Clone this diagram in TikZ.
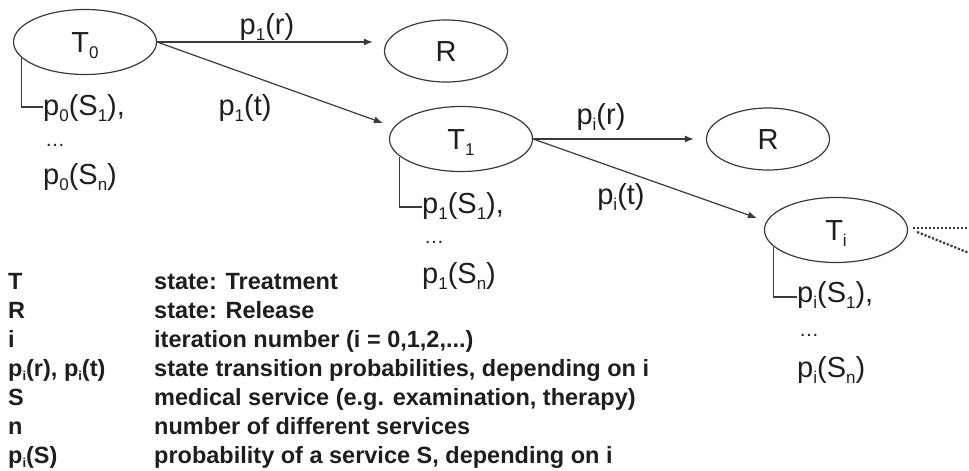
\documentclass[tikz,border=0pt]{standalone}
\usepackage{fontspec}
\setmainfont{Liberation Sans}
\usetikzlibrary{shapes.geometric,arrows.meta}
\definecolor{ink}{HTML}{1E1E1E}
\definecolor{edge}{HTML}{3A3A3A}
% lowered, smaller indices as used in the labels
\newcommand\lowidx[1]{\raisebox{-6pt}{\fontsize{17}{17}\selectfont #1}}
\newcommand\legidx[1]{\raisebox{-4.5pt}{\fontsize{13}{13}\selectfont #1}}
\newcommand\diagfont{\fontsize{29}{34}\selectfont}
\newcommand\legfont{\fontsize{23.5}{28}\selectfont\bfseries}

\begin{document}
\begin{tikzpicture}[x=1pt,y=1pt,
  state/.style={ellipse,draw=edge,line width=1.2pt,inner sep=0pt,
    text=ink,font=\diagfont,text height=21pt,text depth=0pt},
  tstate/.style={state,minimum width=143pt,minimum height=65pt},
  rstate/.style={state,minimum width=123pt,minimum height=62pt},
  arr/.style={draw=edge,line width=1.2pt,-{Latex[length=9pt,width=7pt]}},
  brk/.style={draw=edge,line width=1.2pt},
  dots/.style={draw=edge,line width=2.2pt,dash pattern=on 2.2pt off 1.8pt},
  lbl/.style={inner sep=0pt,anchor=base,text=ink,font=\diagfont},
  sublbl/.style={inner sep=0pt,anchor=base west,text=ink,font=\diagfont},
  ell/.style={inner sep=0pt,anchor=base west,text=ink,font=\fontsize{20}{20}\selectfont},
  key/.style={inner sep=0pt,anchor=base west,text=ink,font=\legfont}
]
\useasboundingbox (0,0) rectangle (969,-471);

% states
\node[tstate] (T0) at (85,-42)  {T\lowidx{0}};
\node[rstate] (R1) at (446,-51) {R};
\node[tstate] (T1) at (461,-139) {T\lowidx{1}};
\node[rstate] (R2) at (768,-139) {R};
\node[tstate] (Ti) at (836,-230) {T\lowidx{i}};

% transitions
\draw[arr,shorten >=11pt] (T0.east) -- (R1.west |- T0.east);
\draw[arr] (T0.east) -- ([shift={(-6,16)}]T1.west);
\draw[arr,shorten >=12pt] (T1.east) -- (R2.west |- T1.east);
\draw[arr] (T1.east) -- ([shift={(-7,12)}]Ti.west);

% continuation
\coordinate (c1) at (969,-228);
\coordinate (c2) at (969,-253);
\draw[dots] ([shift={(5,2)}]Ti.east) -- (c1);
\draw[dots] ([shift={(9,-2)}]Ti.east) -- (c2);

% transition labels
\node[lbl] (l1) at (267,-34)  {p\lowidx{1}(r)};
\node[lbl] (l2) at (245,-115) {p\lowidx{1}(t)};
\node[lbl] (l3) at (601,-124) {p\lowidx{i}(r)};
\node[lbl] (l4) at (621,-204) {p\lowidx{i}(t)};

% service probabilities of each treatment state
\node[sublbl] (a1) at (43,-115) {p\lowidx{0}(S\lowidx{1}),};
\node[ell]    (a2) at (45,-146) {…};
\node[sublbl] (a3) at (43,-184) {p\lowidx{0}(S\lowidx{n})};
\draw[brk] (T0.194) |- ([yshift=8pt]a1.base west);

\node[sublbl] (b1) at (422,-213) {p\lowidx{1}(S\lowidx{1}),};
\node[ell]    (b2) at (424,-243) {…};
\node[sublbl] (b3) at (422,-283) {p\lowidx{1}(S\lowidx{n})};
\draw[brk] (T1.196) |- ([yshift=6pt]b1.base west);

\node[sublbl] (c1l) at (797,-302) {p\lowidx{i}(S\lowidx{1}),};
\node[ell]    (c2l) at (799,-336) {…};
\node[sublbl] (c3l) at (797,-377) {p\lowidx{i}(S\lowidx{n})};
\draw[brk] (Ti.195) |- ([yshift=5pt]c1l.base west);

% legend
\node[key] (k1) at (8,-289) {T};
\node[key] (k2) at (8,-318) {R};
\node[key] (k3) at (8,-347) {i};
\node[key] (k4) at (8,-376) {p\legidx{i}(r), p\legidx{i}(t)};
\node[key] (k5) at (8,-405) {S};
\node[key] (k6) at (8,-434) {n};
\node[key] (k7) at (8,-463) {p\legidx{i}(S)};
\node[key] (d1) at (154,-289) {state: Treatment};
\node[key] (d2) at (154,-318) {state: Release};
\node[key] (d3) at (154,-347) {iteration number (i = 0,1,2,...)};
\node[key] (d4) at (154,-376) {state transition probabilities, depending on i};
\node[key] (d5) at (154,-405) {medical service (e.g. examination, therapy)};
\node[key] (d6) at (154,-434) {number of different services};
\node[key] (d7) at (154,-463) {probability of a service S, depending on i};
\end{tikzpicture}
\end{document}
